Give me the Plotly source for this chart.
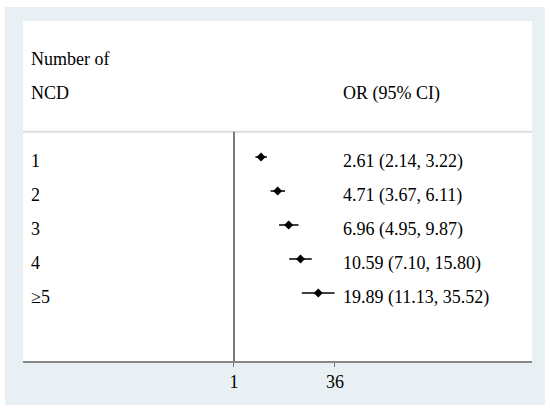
"""Forest plot: odds ratio by number of NCD."""

import plotly.graph_objects as go

# data
ncd_labels = ["1", "2", "3", "4", "≥5"]
or_vals = [2.61, 4.71, 6.96, 10.59, 19.89]
ci_low = [2.14, 3.67, 4.95, 7.10, 11.13]
ci_high = [3.22, 6.11, 9.87, 15.80, 35.52]
tick_vals = [1, 36]

FONT = dict(family="Liberation Serif, Times New Roman, serif", size=18, color="black")
FRAME_COLOR = "#E8F0F3"

rows = list(range(1, len(ncd_labels) + 1))

fig = go.Figure()

fig.add_trace(go.Scatter(
    x=or_vals,
    y=rows,
    mode="markers",
    marker=dict(symbol="diamond", size=7, color="black"),
    error_x=dict(
        type="data",
        symmetric=False,
        array=[h - o for h, o in zip(ci_high, or_vals)],
        arrayminus=[o - l for o, l in zip(or_vals, ci_low)],
        width=0,
        thickness=1.5,
        color="black",
    ),
    showlegend=False,
    hoverinfo="skip",
))


def text_note(x, y, text):
    return dict(xref="paper", yref="y", x=x, y=y, text=text, showarrow=False,
                xanchor="left", yanchor="middle", yshift=-4, font=FONT)


# row labels and OR text
annotations = []
for r, lab, o, lo, hi in zip(rows, ncd_labels, or_vals, ci_low, ci_high):
    annotations.append(text_note(0.012, r, lab))
    annotations.append(text_note(0.625, r, f"{o:.2f} ({lo:.2f}, {hi:.2f})"))

# headers
annotations.append(text_note(0.012, -2, "Number of"))
annotations.append(text_note(0.012, -1, "NCD"))
annotations.append(text_note(0.625, -1, "OR (95% CI)"))

shapes = [
    # outer tinted frame
    dict(type="rect", xref="paper", yref="paper", x0=-0.0354, x1=1.0255, y0=-0.1294, y1=1.0412,
         fillcolor=FRAME_COLOR, line=dict(width=0), layer="below"),
    # inner white panel
    dict(type="rect", xref="paper", yref="paper", x0=0, x1=1, y0=0, y1=1,
         fillcolor="white", line=dict(width=0), layer="below"),
    # header separator
    dict(type="line", xref="paper", yref="y", x0=0, x1=1, y0=0.26, y1=0.26,
         line=dict(color="#DDDDDD", width=2)),
    # null line at OR = 1
    dict(type="line", xref="x", yref="y", x0=1, x1=1, y0=0.26, y1=7,
         line=dict(color="#333333", width=1.3)),
]

fig.update_layout(
    width=550,
    height=411,
    margin=dict(l=23, r=18, t=21, b=50),
    paper_bgcolor="white",
    plot_bgcolor="rgba(0,0,0,0)",
    xaxis=dict(
        type="log",
        range=[-3.251, 4.592],
        tickmode="array",
        tickvals=tick_vals,
        ticktext=[str(t) for t in tick_vals],
        ticks="outside",
        ticklen=4,
        tickcolor="#777777",
        showline=True,
        linecolor="#888888",
        linewidth=1.5,
        showgrid=False,
        zeroline=False,
        tickfont=FONT,
        fixedrange=True,
    ),
    yaxis=dict(range=[7, -3], visible=False, fixedrange=True),
    annotations=annotations,
    shapes=shapes,
    font=FONT,
)

# drop the default page margin so the figure sits at the window's corner
fig.write_html("out.html", config={"displayModeBar": False},
               post_script="document.body.style.margin='0';")
